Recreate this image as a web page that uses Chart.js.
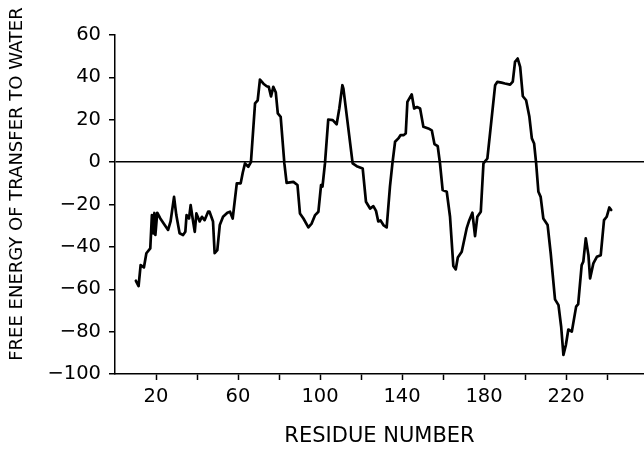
<!DOCTYPE html>
<html>
<head>
<meta charset="utf-8">
<script src="https://cdn.jsdelivr.net/npm/chart.js@4/dist/chart.umd.min.js"></script>
<style>
html,body{margin:0;padding:0;background:#fff;}
#wrap{width:644px;height:449px;position:relative;}
</style>
</head>
<body>
<div id="wrap"><canvas id="c" width="644" height="449"></canvas></div>
<script>
const residues = [10.2,11.5,12.5,14.1,15.3,17.2,18.0,18.7,19.2,19.7,20.6,22.1,23.9,25.9,27.1,28.8,29.9,31.5,33.2,34.3,34.9,36.1,36.9,38.0,38.9,39.7,41.3,42.4,43.7,45.4,46.1,47.8,48.6,49.9,51.1,52.7,54.8,56.1,57.4,59.4,61.3,62.3,63.4,65.0,66.3,68.3,69.6,70.7,72.4,74.0,75.0,76.1,77.2,78.4,79.4,80.8,82.6,83.7,87.0,89.0,90.2,91.9,94.3,95.9,97.6,99.2,100.5,101.2,102.4,104.0,106.2,108.1,109.4,110.9,111.4,113.3,115.9,117.9,120.8,122.4,124.4,126.0,127.3,128.4,129.5,130.9,132.5,134.1,135.3,136.6,138.2,139.3,140.7,141.8,142.6,144.7,145.9,147.3,148.8,150.4,152.8,154.5,155.8,157.4,158.5,159.8,161.8,163.4,165.0,166.2,167.2,169.1,171.5,172.8,174.3,175.6,176.7,178.4,179.7,181.6,182.9,185.4,186.5,188.5,190.2,192.7,194.0,195.1,196.4,197.6,198.9,200.5,202.1,203.3,204.4,205.4,206.5,207.6,208.9,211.0,212.5,214.6,216.3,217.6,218.7,219.9,221.1,222.8,224.9,225.9,227.6,228.4,229.6,230.9,231.7,233.3,235.0,236.9,238.5,239.8,241.1,242.0];
const freeEnergy = [-56,-58.5,-48.6,-49.7,-43,-40.7,-25,-33.6,-24,-34.4,-23.9,-26.6,-29.2,-32,-28,-16.4,-25,-33.6,-34.4,-32.9,-25,-26.6,-20.3,-27.4,-32.9,-24.2,-28,-25.8,-27.4,-23.4,-23.4,-28,-43,-41.5,-29.7,-25.8,-23.9,-23.4,-26.6,-10,-10,-5,-0.6,-2.2,0,27.7,29.2,39,37,35.8,35.5,31,35.5,33,23,21.4,-0.6,-9.8,-9.3,-10.8,-24.2,-26.6,-30.8,-29,-25,-23.4,-10.8,-11.5,-0.6,20.1,19.8,17.9,25.3,36.3,34.7,19.8,-0.6,-1.9,-3,-18.7,-21.9,-20.8,-23,-28,-27.5,-29.7,-30.8,-11.6,-0.6,9.6,11.2,12.8,12.7,13.5,28.4,32,25.3,26,25.3,16.7,15.9,15,8.5,7.5,-0.6,-13.2,-14,-25.8,-49,-50.6,-45,-42.3,-31.3,-27.4,-23.9,-34.9,-25.8,-23.4,-0.6,1.7,13.5,36.3,37.9,37.5,37.1,36.6,38,47.3,48.9,45,31.1,29.2,21.4,11.2,8.8,-0.6,-14,-16.4,-26.6,-29.7,-43,-64.8,-67.5,-77.7,-91,-86.3,-79,-80,-68.2,-67,-48.6,-47,-36,-43.9,-54.9,-47.8,-44.7,-43.9,-27.4,-25.8,-21.4,-22.6];
const xTickValues = [20,40,60,80,100,120,140,160,180,200,220,240];
const xTickLabels = [20,60,100,140,180,220];
const yTickValues = [-100,-80,-60,-40,-20,0,20,40,60];
const xTitle = 'RESIDUE NUMBER';
const yTitle = 'FREE ENERGY OF TRANSFER TO WATER';

const FONT = "'DejaVu Sans', 'Liberation Sans', Arial, sans-serif";
const points = residues.map((r, i) => ({x: r, y: freeEnergy[i]}));

const yTitlePlugin = {
  id: 'yTitle',
  afterDraw(chart) {
    const ctx = chart.ctx;
    ctx.save();
    ctx.translate(17, 184);
    ctx.rotate(-Math.PI / 2);
    ctx.font = '18px ' + FONT;
    ctx.fillStyle = '#000';
    ctx.textAlign = 'center';
    ctx.textBaseline = 'middle';
    ctx.fillText(yTitle, 0, 0);
    ctx.restore();
  }
};

new Chart(document.getElementById('c'), {
  type: 'line',
  data: {
    datasets: [{
      data: points,
      borderColor: '#000',
      borderWidth: 2.7,
      pointRadius: 0,
      tension: 0,
      fill: false,
      borderJoinStyle: 'round',
      borderCapStyle: 'round'
    }]
  },
  options: {
    responsive: false,
    animation: false,
    events: [],
    layout: {padding: {top: 35, right: 0, left: 0, bottom: 0}},
    plugins: {legend: {display: false}, tooltip: {enabled: false}},
    scales: {
      x: {
        type: 'linear',
        min: 0,
        max: 258,
        afterBuildTicks: s => { s.ticks = xTickValues.map(v => ({value: v})); },
        afterFit: s => { s.height = 75; },
        ticks: {
          autoSkip: false,
          maxRotation: 0,
          color: '#000',
          padding: 5,
          font: {family: FONT, size: 19.5},
          callback: v => xTickLabels.includes(v) ? String(v) : ''
        },
        grid: {drawOnChartArea: false, color: '#000', tickLength: 6, tickWidth: 1.5},
        border: {display: true, color: '#000', width: 1.5},
        title: {display: true, text: xTitle, color: '#000', font: {family: FONT, size: 21}, padding: {top: 0, bottom: 0}}
      },
      y: {
        min: -100,
        max: 60,
        afterBuildTicks: s => { s.ticks = yTickValues.map(v => ({value: v})); },
        afterFit: s => { s.width = 115; },
        ticks: {
          color: '#000',
          padding: 8,
          font: {family: FONT, size: 19.5},
          callback: v => String(v).replace('-', '\u2212')
        },
        grid: {
          drawOnChartArea: true,
          color: c => (c.tick && c.tick.value === 0) ? '#000' : 'rgba(0,0,0,0)',
          lineWidth: 1.5,
          tickColor: '#000',
          tickLength: 6,
          tickWidth: 1.5
        },
        border: {display: true, color: '#000', width: 1.5}
      }
    }
  },
  plugins: [yTitlePlugin]
});
</script>
</body>
</html>
